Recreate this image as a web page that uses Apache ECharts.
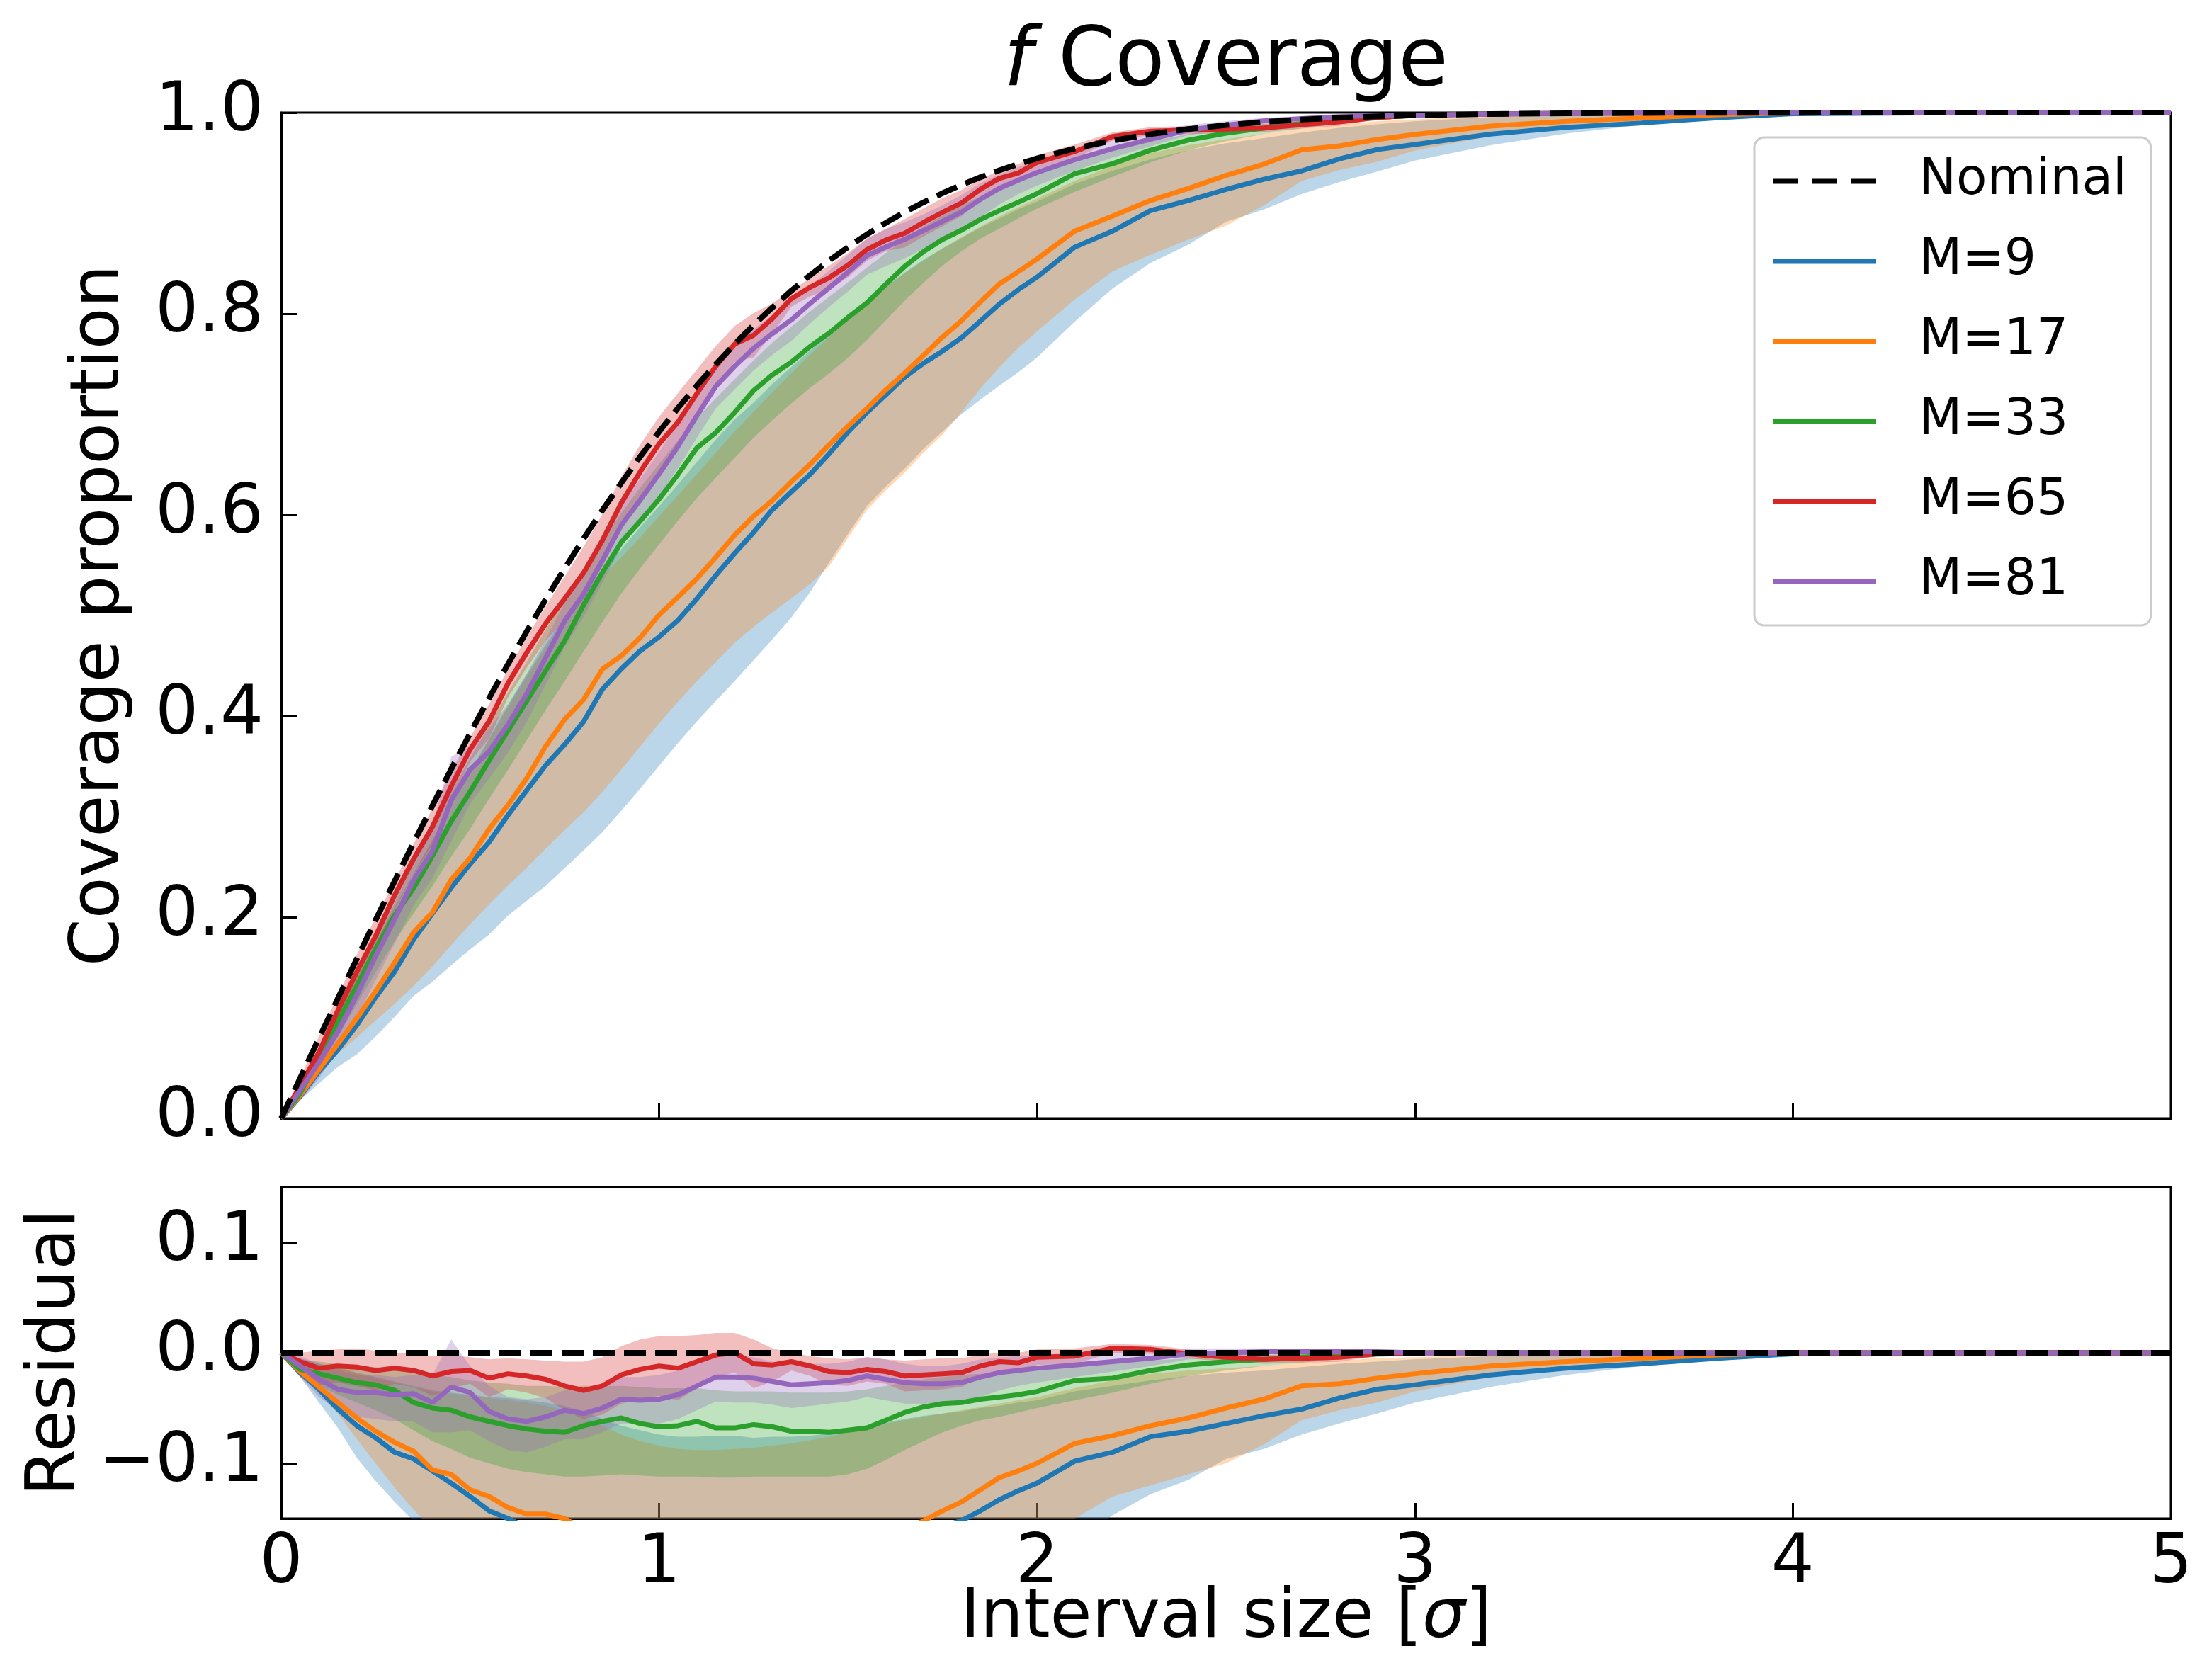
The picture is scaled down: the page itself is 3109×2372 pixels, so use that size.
<!DOCTYPE html>
<html>
<head>
<meta charset="utf-8">
<script src="https://cdn.jsdelivr.net/npm/echarts@6/dist/echarts.min.js"></script>
<style>
  html, body { margin: 0; padding: 0; background: #ffffff; }
  #chart { width: 3109px; height: 2372px; }
</style>
</head>
<body>
<div id="chart"></div>
<script>
// Interval sizes (in sigma) at which coverage was evaluated
const intervalSize = [0,0.05,0.1,0.15,0.2,0.25,0.3,0.35,0.4,0.45,0.5,0.55,0.6,0.65,0.7,0.75,0.8,0.85,0.9,0.95,
  1.0,1.05,1.1,1.15,1.2,1.25,1.3,1.35,1.4,1.45,1.5,1.55,1.6,1.65,1.7,1.75,1.8,1.85,1.9,1.95,
  2.0,2.1,2.2,2.3,2.4,2.5,2.6,2.7,2.8,2.9,3.0,3.2,3.4,3.6,3.8,4.0,4.5,5.0];

// Nominal (Gaussian) coverage
const nominal = [0,0.0399,0.0797,0.1192,0.1585,0.1974,0.2358,0.2737,0.3108,0.3473,
  0.3829,0.4177,0.4515,0.4843,0.5161,0.5467,0.5763,0.6047,0.6319,0.6579,
  0.6827,0.7063,0.7287,0.7499,0.7699,0.7887,0.8064,0.8230,0.8385,0.8529,
  0.8664,0.8789,0.8904,0.9011,0.9109,0.9199,0.9281,0.9357,0.9426,0.9488,
  0.9545,0.9643,0.9722,0.9786,0.9836,0.9876,0.9907,0.9931,0.9949,0.9963,
  0.9973,0.9986,0.9993,0.9997,0.9999,0.9999,1.0,1.0];

// Residual (coverage - nominal): mean and spread for each M
const resM9 = [0,-.018,-.033,-.051,-.066,-.077,-.090,-.096,-.107,-.118,
  -.130,-.143,-.150,-.158,-.165,-.175,-.182,-.178,-.185,-.193,
  -.204,-.211,-.212,-.210,-.208,-.206,-.201,-.200,-.198,-.192,
  -.184,-.177,-.171,-.164,-.160,-.157,-.152,-.143,-.133,-.125,
  -.118,-.098,-.090,-.076,-.071,-.064,-.057,-.051,-.041,-.033,
  -.029,-.020,-.014,-.010,-.005,-.001,0,0];
const hiM9 = [0,-.005,-.010,-.013,-.018,-.022,-.026,-.030,-.034,-.036,
  -.038,-.040,-.041,-.043,-.045,-.048,-.053,-.060,-.066,-.070,
  -.074,-.076,-.076,-.075,-.075,-.077,-.076,-.076,-.075,-.073,
  -.070,-.066,-.063,-.060,-.057,-.055,-.053,-.050,-.048,-.045,
  -.043,-.035,-.030,-.025,-.021,-.018,-.016,-.013,-.010,-.008,
  -.006,-.003,-.002,-.001,0,0,0,0];
const loM9 = [0,-.022,-.045,-.068,-.095,-.116,-.135,-.152,-.175,-.195,
  -.215,-.235,-.250,-.268,-.285,-.298,-.310,-.320,-.326,-.330,
  -.332,-.333,-.334,-.335,-.335,-.333,-.330,-.325,-.315,-.300,
  -.285,-.270,-.262,-.255,-.245,-.237,-.228,-.221,-.214,-.207,
  -.198,-.172,-.147,-.128,-.115,-.096,-.087,-.074,-.064,-.055,
  -.045,-.031,-.020,-.012,-.007,-.002,0,0];

const resM17 = [0,-.017,-.031,-.045,-.059,-.071,-.081,-.089,-.106,-.110,
  -.124,-.130,-.140,-.146,-.146,-.150,-.160,-.158,-.172,-.180,
  -.182,-.188,-.192,-.192,-.190,-.190,-.192,-.190,-.188,-.183,
  -.178,-.173,-.166,-.160,-.152,-.143,-.135,-.124,-.113,-.107,
  -.100,-.082,-.075,-.066,-.059,-.050,-.042,-.030,-.028,-.023,
  -.019,-.012,-.008,-.005,-.002,0,0,0];
const hiM17 = [0,-.006,-.011,-.014,-.019,-.023,-.027,-.031,-.035,-.037,
  -.039,-.041,-.043,-.045,-.048,-.052,-.058,-.066,-.074,-.080,
  -.084,-.087,-.088,-.088,-.087,-.086,-.084,-.082,-.079,-.076,
  -.072,-.068,-.064,-.061,-.058,-.055,-.052,-.049,-.046,-.043,
  -.040,-.032,-.025,-.019,-.016,-.014,-.012,-.009,-.007,-.005,
  -.004,-.002,-.001,0,0,0,0,0];
const loM17 = [0,-.020,-.037,-.055,-.078,-.100,-.122,-.142,-.160,-.175,
  -.190,-.205,-.220,-.235,-.248,-.260,-.272,-.280,-.285,-.288,
  -.290,-.292,-.294,-.296,-.297,-.300,-.303,-.306,-.307,-.304,
  -.289,-.274,-.266,-.259,-.249,-.240,-.226,-.210,-.196,-.183,
  -.172,-.150,-.130,-.120,-.110,-.100,-.083,-.061,-.052,-.045,
  -.035,-.022,-.015,-.008,-.005,-.002,0,0];

const resM33 = [0,-.015,-.019,-.023,-.027,-.029,-.034,-.045,-.050,-.052,
  -.058,-.062,-.066,-.069,-.071,-.072,-.066,-.062,-.059,-.064,
  -.067,-.066,-.062,-.068,-.068,-.065,-.067,-.071,-.071,-.072,
  -.070,-.068,-.061,-.054,-.049,-.046,-.045,-.042,-.040,-.038,
  -.035,-.025,-.023,-.016,-.011,-.008,-.006,-.004,-.002,-.001,
  0,0,0,0,0,0,0,0];
const hiM33 = [0,-.006,-.008,-.010,-.012,-.013,-.015,-.018,-.020,-.022,
  -.025,-.027,-.028,-.030,-.030,-.031,-.030,-.030,-.030,-.031,
  -.032,-.032,-.032,-.034,-.035,-.035,-.035,-.036,-.036,-.036,
  -.035,-.033,-.030,-.027,-.024,-.022,-.020,-.019,-.018,-.017,
  -.016,-.012,-.010,-.007,-.005,-.003,-.002,-.001,0,0,
  0,0,0,0,0,0,0,0];
const loM33 = [0,-.022,-.030,-.038,-.045,-.052,-.060,-.070,-.080,-.087,
  -.095,-.100,-.105,-.108,-.110,-.112,-.112,-.111,-.110,-.111,
  -.112,-.112,-.112,-.113,-.113,-.112,-.112,-.112,-.112,-.112,
  -.110,-.105,-.097,-.088,-.080,-.072,-.066,-.061,-.058,-.054,
  -.050,-.043,-.036,-.028,-.021,-.016,-.012,-.009,-.006,-.004,
  -.002,-.001,0,0,0,0,0,0];

const resM65 = [0,-.008,-.014,-.012,-.013,-.016,-.014,-.016,-.021,-.017,
  -.016,-.023,-.019,-.021,-.024,-.030,-.034,-.030,-.020,-.015,
  -.012,-.014,-.008,-.002,0,-.010,-.011,-.008,-.012,-.017,
  -.018,-.015,-.017,-.021,-.020,-.019,-.018,-.012,-.008,-.009,
  -.004,-.003,.004,.003,-.001,-.004,-.006,-.005,-.004,-.001,
  0,0,0,0,0,0,0,0];
const hiM65 = [0,0,.002,.003,.004,.002,0,-.001,-.003,-.002,
  -.004,-.006,-.005,-.006,-.007,-.008,-.008,-.004,.006,.012,
  .015,.015,.016,.018,.018,.012,.004,0,-.003,-.005,
  -.006,-.004,-.006,-.007,-.006,-.005,-.005,-.002,0,0,
  .003,.004,.008,.007,.003,0,-.002,-.001,0,.001,
  .001,0,0,0,0,0,0,0];
const loM65 = [0,-.016,-.030,-.027,-.030,-.034,-.028,-.031,-.039,-.032,
  -.028,-.040,-.033,-.036,-.041,-.052,-.060,-.056,-.046,-.042,
  -.039,-.043,-.032,-.022,-.018,-.032,-.026,-.016,-.021,-.029,
  -.030,-.026,-.028,-.035,-.034,-.033,-.031,-.022,-.016,-.018,
  -.011,-.010,0,-.001,-.005,-.008,-.010,-.009,-.008,-.003,
  -.001,0,0,0,0,0,0,0];

const resM81 = [0,-.012,-.024,-.033,-.036,-.036,-.038,-.037,-.045,-.031,
  -.036,-.053,-.060,-.062,-.058,-.052,-.055,-.050,-.042,-.043,
  -.042,-.038,-.030,-.022,-.022,-.023,-.026,-.029,-.028,-.027,
  -.025,-.021,-.024,-.027,-.028,-.028,-.027,-.022,-.018,-.016,
  -.014,-.011,-.008,-.005,-.001,0,.001,.001,.001,.001,
  0,0,0,0,0,0,0,0];
const hiM81 = [0,-.003,-.010,-.016,-.020,-.020,-.022,-.020,-.020,.012,
  -.012,-.030,-.040,-.042,-.040,-.034,-.035,-.030,-.022,-.022,
  -.020,-.016,-.010,-.004,-.002,-.004,-.008,-.010,-.010,-.010,
  -.008,-.004,-.006,-.010,-.012,-.012,-.010,-.006,-.004,-.003,
  -.002,-.001,.001,.003,.004,.004,.004,.003,.003,.002,
  .001,0,0,0,0,0,0,0];
const loM81 = [0,-.022,-.040,-.052,-.058,-.060,-.062,-.062,-.072,-.072,
  -.070,-.080,-.088,-.090,-.085,-.078,-.078,-.072,-.064,-.064,
  -.064,-.060,-.052,-.044,-.045,-.045,-.047,-.050,-.048,-.046,
  -.044,-.040,-.043,-.046,-.046,-.045,-.044,-.040,-.034,-.030,
  -.027,-.022,-.017,-.012,-.006,-.004,-.002,-.001,-.001,0,
  0,0,0,0,0,0,0,0];

const xTicks = [0, 1, 2, 3, 4, 5];
const coverageTicks = [0, 0.2, 0.4, 0.6, 0.8, 1.0];
const residualTicks = [-0.1, 0, 0.1];

const runs = [
  { name: 'M=9',  color: '#1f77b4', mean: resM9,  lo: loM9,  hi: hiM9 },
  { name: 'M=17', color: '#ff7f0e', mean: resM17, lo: loM17, hi: hiM17 },
  { name: 'M=33', color: '#2ca02c', mean: resM33, lo: loM33, hi: hiM33 },
  { name: 'M=65', color: '#d62728', mean: resM65, lo: loM65, hi: hiM65 },
  { name: 'M=81', color: '#9467bd', mean: resM81, lo: loM81, hi: hiM81 }
];

const FONT = 'DejaVu Sans';
const pairs = (ys) => intervalSize.map((x, i) => [x, ys[i]]);
const rgba = (hex, a) => {
  const n = parseInt(hex.slice(1), 16);
  return 'rgba(' + (n >> 16) + ',' + ((n >> 8) & 255) + ',' + (n & 255) + ',' + a + ')';
};

// panel 0: coverage = nominal + residual ; panel 1: residual itself
const toPanel = (panel, arr) => panel === 0 ? arr.map((r, i) => nominal[i] + r) : arr.slice();

// shaded spread band, drawn as one polygon through the axis scales
function bandSeries(panel, run) {
  const lo = toPanel(panel, run.lo);
  const hi = toPanel(panel, run.hi);
  return {
    type: 'custom', name: run.name + ' spread', xAxisIndex: panel, yAxisIndex: panel,
    silent: true, z: 1, clip: true, animation: false,
    data: intervalSize.map((x, i) => [x, lo[i], hi[i]]),
    encode: { x: 0, y: [1, 2] },
    renderItem: (params, api) => {
      if (params.dataIndex !== 0) return null;
      const pts = [];
      for (let i = 0; i < intervalSize.length; i++) pts.push(api.coord([intervalSize[i], hi[i]]));
      for (let i = intervalSize.length - 1; i >= 0; i--) pts.push(api.coord([intervalSize[i], lo[i]]));
      const cs = params.coordSys;
      return {
        type: 'polygon',
        shape: { points: pts },
        style: { fill: rgba(run.color, 0.3), stroke: null },
        clipPath: { type: 'rect', shape: { x: cs.x, y: cs.y, width: cs.width, height: cs.height } }
      };
    }
  };
}

const series = [];
[0, 1].forEach(panel => {
  runs.forEach(run => series.push(bandSeries(panel, run)));
  series.push({
    type: 'line', name: 'Nominal', xAxisIndex: panel, yAxisIndex: panel,
    data: pairs(panel === 0 ? nominal : nominal.map(() => 0)),
    symbol: 'none', showSymbol: false,
    lineStyle: { color: '#000000', width: 8, type: [31, 13] },
    itemStyle: { color: '#000000' },
    z: 4, animation: false
  });
  runs.forEach(run => {
    series.push({
      type: 'line', name: run.name, xAxisIndex: panel, yAxisIndex: panel,
      data: pairs(toPanel(panel, run.mean)),
      symbol: 'none', showSymbol: false,
      lineStyle: { color: run.color, width: 7 },
      itemStyle: { color: run.color },
      z: 3, animation: false
    });
  });
});

const fmtSigned = v => (v < -1e-9 ? '\u2212' : '') + Math.abs(v).toFixed(1);

const tickStyle = { show: true, inside: true, length: 22, lineStyle: { color: '#000', width: 3 } };
const lineAxis = { show: true, onZero: false, lineStyle: { color: '#000', width: 3 } };
const solidIcon = 'rect';
const dashedIcon = 'path://M0,0h35v7h-35z M55,0h35v7h-35z M110,0h36v7h-36z';

const option = {
  backgroundColor: '#ffffff',
  animation: false,
  grid: [
    { left: 397, right: 44, top: 159, height: 1420, show: true, borderColor: '#000', borderWidth: 3, backgroundColor: 'transparent', outerBoundsMode: 'none', containLabel: false },
    { left: 397, right: 44, top: 1676, height: 468, show: true, borderColor: '#000', borderWidth: 3, backgroundColor: 'transparent', outerBoundsMode: 'none', containLabel: false }
  ],
  xAxis: [
    { type: 'value', gridIndex: 0, min: 0, max: 5, interval: 1,
      axisLine: lineAxis, axisTick: tickStyle, axisLabel: { show: false }, splitLine: { show: false } },
    { type: 'value', gridIndex: 1, min: 0, max: 5, interval: 1,
      axisLine: lineAxis, axisTick: tickStyle, splitLine: { show: false },
      axisLabel: { show: true, margin: 17, fontFamily: FONT, fontSize: 96, color: '#000',
        showMinLabel: true, showMaxLabel: true, alignMinLabel: 'center', alignMaxLabel: 'center',
        customValues: xTicks, formatter: v => String(v) } }
  ],
  yAxis: [
    { type: 'value', gridIndex: 0, min: 0, max: 1, interval: 0.2,
      axisLine: lineAxis, axisTick: tickStyle, splitLine: { show: false },
      axisLabel: { show: true, margin: 25, fontFamily: FONT, fontSize: 96, color: '#000',
        showMinLabel: true, showMaxLabel: true, customValues: coverageTicks, formatter: v => v.toFixed(1) },
      name: 'Coverage proportion', nameLocation: 'middle', nameGap: 207,
      nameTextStyle: { fontFamily: FONT, fontSize: 96, color: '#000' } },
    { type: 'value', gridIndex: 1, min: -0.15, max: 0.15,
      axisLine: lineAxis, splitLine: { show: false },
      axisTick: Object.assign({}, tickStyle, { customValues: residualTicks }),
      axisLabel: { show: true, margin: 25, fontFamily: FONT, fontSize: 96, color: '#000',
        customValues: residualTicks, formatter: fmtSigned },
      name: 'Residual', nameLocation: 'middle', nameGap: 266,
      nameTextStyle: { fontFamily: FONT, fontSize: 96, color: '#000' } }
  ],
  legend: {
    orient: 'vertical', left: 2477, top: 194,
    data: [
      { name: 'Nominal', icon: dashedIcon, itemStyle: { color: '#000' } },
      { name: 'M=9', icon: solidIcon }, { name: 'M=17', icon: solidIcon }, { name: 'M=33', icon: solidIcon },
      { name: 'M=65', icon: solidIcon }, { name: 'M=81', icon: solidIcon }
    ],
    itemWidth: 146, itemHeight: 7, itemGap: 33,
    padding: [22, 34, 22, 26],
    backgroundColor: 'rgba(255,255,255,0.8)', borderColor: '#cccccc', borderWidth: 3, borderRadius: 14,
    textStyle: { fontFamily: FONT, fontSize: 71, color: '#000', lineHeight: 80, padding: [0, 0, 0, 55] },
    selectedMode: false
  },
  graphic: [
    { type: 'text', x: 1731, y: 90, z: 10,
      style: { text: '{it|f} Coverage', fontFamily: FONT, fontSize: 115, fill: '#000',
        align: 'center', verticalAlign: 'middle',
        rich: { it: { fontStyle: 'italic', fontFamily: FONT, fontSize: 115, fill: '#000' } } } },
    // x-axis title of the residual panel
    { type: 'text', x: 1731, y: 2286, z: 10,
      style: { text: 'Interval size [{it|\u03c3}]', fontFamily: FONT, fontSize: 96, fill: '#000',
        align: 'center', verticalAlign: 'middle',
        rich: { it: { fontStyle: 'italic', fontFamily: FONT, fontSize: 96, fill: '#000' } } } }
  ],
  series: series
};

const chart = echarts.init(document.getElementById('chart'), null, { renderer: 'canvas' });
chart.setOption(option);
</script>
</body>
</html>
